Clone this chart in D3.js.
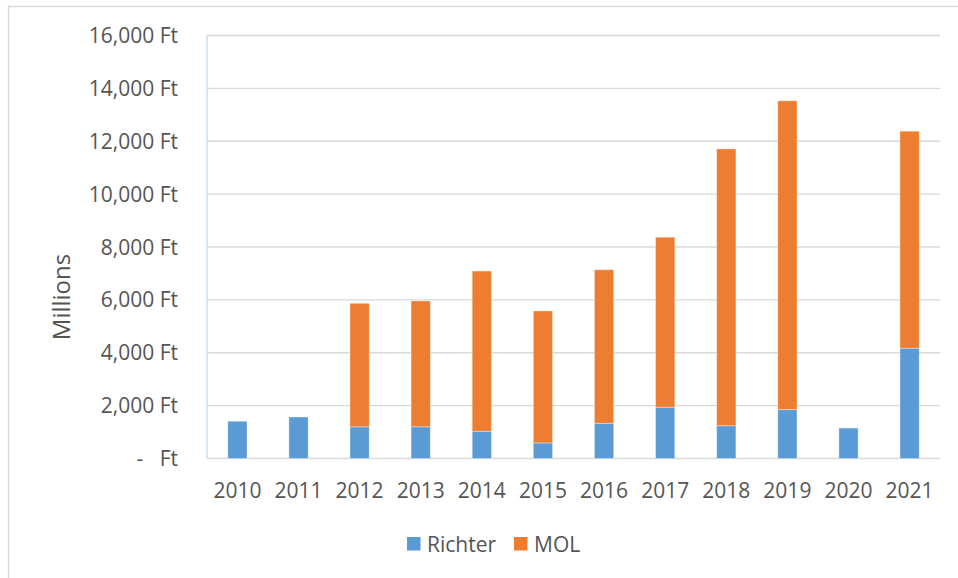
<!DOCTYPE html>
<html>
<head>
<meta charset="utf-8">
<script src="https://cdn.jsdelivr.net/npm/d3@7"></script>
<style>
  body { margin: 0; background: #fff; }
  text { font-family: "Open Sans", "Noto Sans", sans-serif; fill: #555555; }
</style>
</head>
<body>
<div id="chart"></div>
<script>
let width = 958, height = 578;

// Data (millions of Ft)
let years = ["2010", "2011", "2012", "2013", "2014", "2015", "2016", "2017", "2018", "2019", "2020", "2021"];
let richter = [1410, 1570, 1200, 1200, 1030, 590, 1330, 1940, 1240, 1850, 1150, 4170];
let mol = [0, 0, 4670, 4760, 6060, 4990, 5810, 6430, 10470, 11680, 0, 8210];
let seriesNames = ["Richter", "MOL"];
let colors = ["#5B9BD5", "#ED7D31"];
let yTicks = [0, 2000, 4000, 6000, 8000, 10000, 12000, 14000, 16000];

let margin = {top: 35.5, right: 18, bottom: 119.5, left: 207};

let svg = d3.select("#chart")
    .append("svg")
    .attr("width", width)
    .attr("height", height);

// Chart frame
svg.append("rect")
    .attr("x", 8.5).attr("y", 6.5)
    .attr("width", 960).attr("height", 600)
    .attr("fill", "none")
    .attr("stroke", "#d9d9d9")
    .attr("stroke-width", 1.5);

let x = d3.scaleBand()
    .domain(years)
    .range([margin.left, width - margin.right])
    .paddingInner(0.685)
    .paddingOuter(0.34);

let y = d3.scaleLinear()
    .domain([0, 16000])
    .range([height - margin.bottom, margin.top]);

// Gridlines
svg.append("g")
    .selectAll("line")
    .data(yTicks)
    .enter().append("line")
    .attr("x1", margin.left)
    .attr("x2", width - margin.right)
    .attr("y1", d => y(d))
    .attr("y2", d => y(d))
    .attr("stroke", "#d9d9d9")
    .attr("stroke-width", 1.4);

// Y axis line (light blue)
svg.append("line")
    .attr("x1", margin.left).attr("x2", margin.left)
    .attr("y1", y(16000)).attr("y2", y(0))
    .attr("stroke", "#c5dcf0")
    .attr("stroke-width", 1.3);

// Y tick labels
let fmt = d3.format(",");
svg.append("g")
    .selectAll("text")
    .data(yTicks)
    .enter().append("text")
    .attr("x", 178)
    .attr("y", d => y(d))
    .attr("dy", "0.36em")
    .attr("text-anchor", "end")
    .style("font-size", "21px")
    .style("white-space", "pre")
    .text(d => d === 0 ? "-   Ft" : fmt(d) + " Ft");

// X tick labels
svg.append("g")
    .selectAll("text")
    .data(years)
    .enter().append("text")
    .attr("x", d => x(d) + x.bandwidth() / 2)
    .attr("y", 498)
    .attr("text-anchor", "middle")
    .style("font-size", "21px")
    .text(d => d);

// Stacked bars
let table = years.map((yr, i) => ({year: yr, Richter: richter[i], MOL: mol[i]}));
let stacked = d3.stack().keys(seriesNames)(table);

svg.append("g")
    .selectAll("g")
    .data(stacked)
    .enter().append("g")
    .attr("fill", (d, i) => colors[i])
    .selectAll("rect")
    .data(d => d.filter(p => p[1] - p[0] > 0))
    .enter().append("rect")
    .attr("x", d => x(d.data.year))
    .attr("width", x.bandwidth())
    .attr("y", d => y(d[1]))
    .attr("height", d => y(d[0]) - y(d[1]))
    .attr("stroke", "#ffffff")
    .attr("stroke-opacity", 0.35)
    .attr("stroke-width", 1);

// Y axis title
svg.append("text")
    .attr("transform", "translate(70,297) rotate(-90)")
    .attr("text-anchor", "middle")
    .style("font-size", "24px")
    .text("Millions");

// Legend
let legendX = [407, 514];
let legend = svg.append("g")
    .selectAll("g")
    .data(seriesNames)
    .enter().append("g")
    .attr("transform", (d, i) => `translate(${legendX[i]},537)`);

legend.append("rect")
    .attr("width", 13.5)
    .attr("height", 13.5)
    .attr("fill", (d, i) => colors[i]);

legend.append("text")
    .attr("x", 20)
    .attr("y", 7)
    .attr("dy", "0.36em")
    .style("font-size", "21px")
    .text(d => d);
</script>
</body>
</html>
